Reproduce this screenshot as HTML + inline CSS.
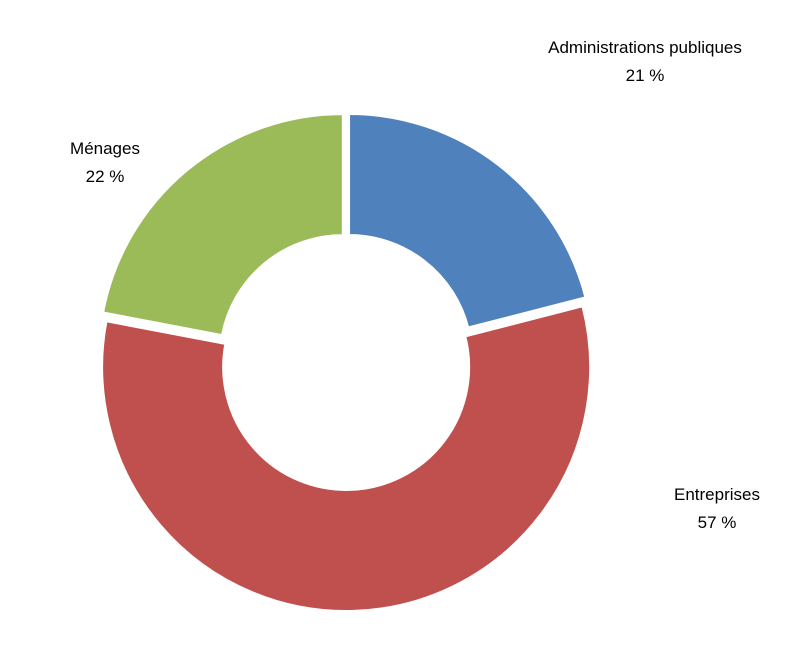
<!DOCTYPE html>
<html><head><meta charset="utf-8"><style>
html,body{margin:0;padding:0;background:#fff;}
svg text{font-family:"Liberation Sans",sans-serif;font-size:17px;fill:#000;}
</style></head><body>
<svg id="chart" width="802" height="650" viewBox="0 0 802 650" xmlns="http://www.w3.org/2000/svg">
<g id="slices"></g>
<g id="labels"></g>
</svg>
<script>
const categories = ["Administrations publiques", "Entreprises", "Ménages"];
const values = [21, 57, 22];
const valueLabels = ["21 %", "57 %", "22 %"];
const colors = ["#4f81bd", "#c0504d", "#9bbb59"];
const cx = 346, cy = 362, rOut = 244, rIn = 123, explode = 5;
const labelPos = [[645, 53], [717, 500], [105, 154]];
const ns = "http://www.w3.org/2000/svg";
const total = values.reduce((a, b) => a + b, 0);
const gS = document.getElementById("slices"), gL = document.getElementById("labels");
function pt(r, a, ox, oy) { return [cx + ox + r * Math.sin(a), cy + oy - r * Math.cos(a)]; }
let start = 0;
values.forEach((v, i) => {
  const sweep = v / total * 2 * Math.PI, end = start + sweep, mid = start + sweep / 2;
  const ox = explode * Math.sin(mid), oy = -explode * Math.cos(mid);
  const large = sweep > Math.PI ? 1 : 0;
  const p1 = pt(rOut, start, ox, oy), p2 = pt(rOut, end, ox, oy), p3 = pt(rIn, end, ox, oy), p4 = pt(rIn, start, ox, oy);
  const d = `M${p1} A${rOut},${rOut} 0 ${large} 1 ${p2} L${p3} A${rIn},${rIn} 0 ${large} 0 ${p4} Z`;
  const path = document.createElementNS(ns, "path");
  path.setAttribute("d", d);
  path.setAttribute("fill", colors[i]);
  path.setAttribute("stroke", "#fff");
  path.setAttribute("stroke-width", "2");
  
  
  gS.appendChild(path);
  const t = document.createElementNS(ns, "text");
  t.setAttribute("x", labelPos[i][0]);
  t.setAttribute("y", labelPos[i][1]);
  t.setAttribute("text-anchor", "middle");
  
  
  const s1 = document.createElementNS(ns, "tspan");
  s1.setAttribute("x", labelPos[i][0]);
  s1.textContent = categories[i];
  const s2 = document.createElementNS(ns, "tspan");
  s2.setAttribute("x", labelPos[i][0]);
  s2.setAttribute("dy", "28");
  s2.textContent = valueLabels[i];
  t.appendChild(s1); t.appendChild(s2);
  gL.appendChild(t);
  start = end;
});
</script>
</body></html>
